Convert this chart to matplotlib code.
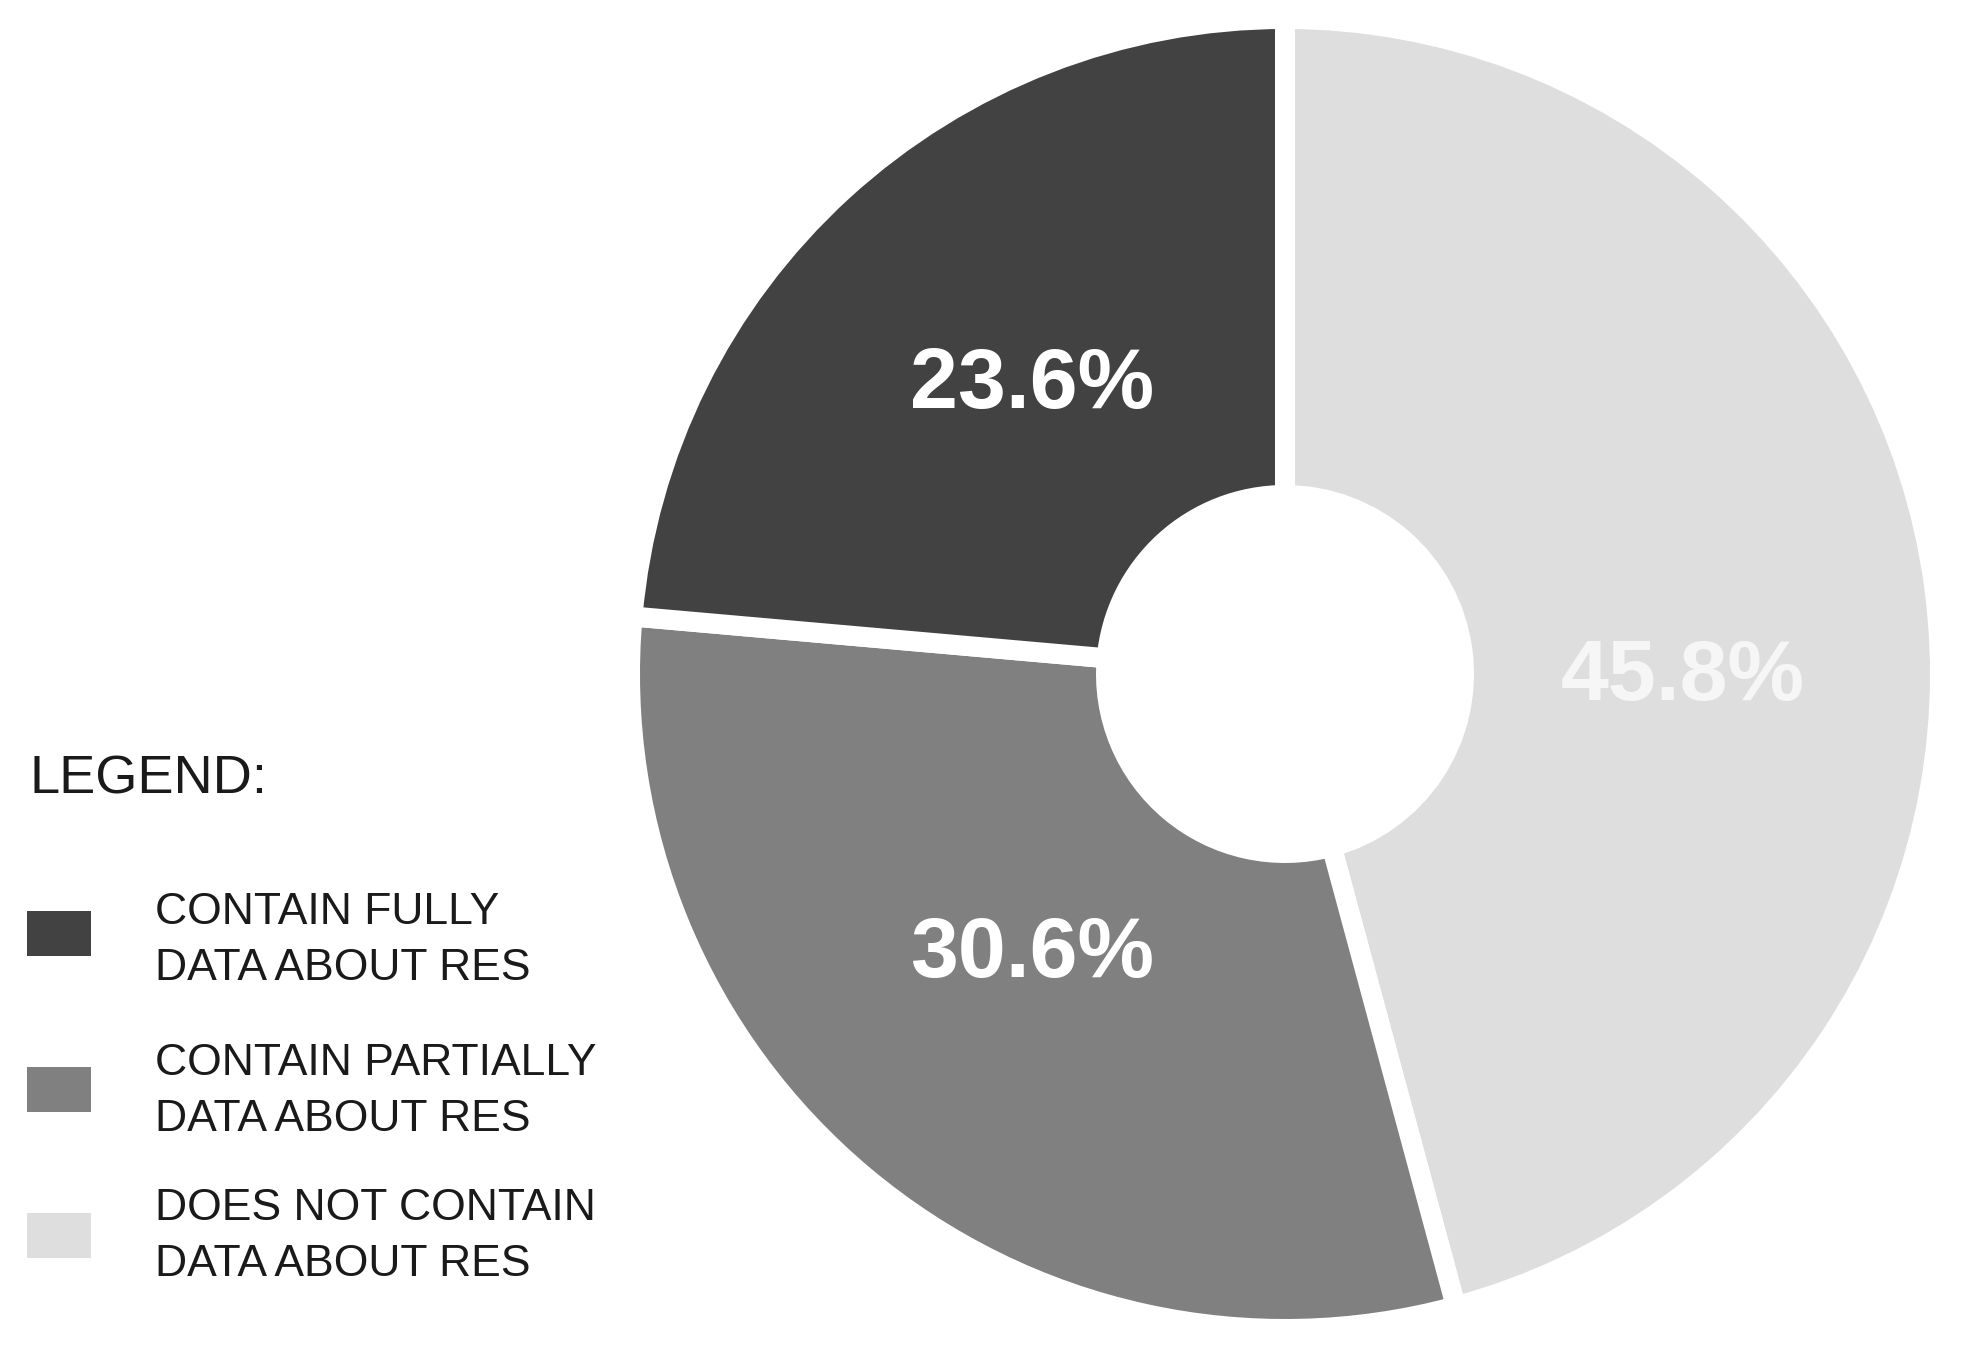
import matplotlib
matplotlib.use("Agg")
import matplotlib.pyplot as plt
from matplotlib.patches import Rectangle

plt.rcParams['font.family'] = ['Liberation Sans', 'DejaVu Sans']

categories = ["DOES NOT CONTAIN\nDATA ABOUT RES",
              "CONTAIN PARTIALLY\nDATA ABOUT RES",
              "CONTAIN FULLY\nDATA ABOUT RES"]
values = [45.8, 30.6, 23.6]
colors = ["#dedede", "#808080", "#424242"]
pct_labels = ["45.8%", "30.6%", "23.6%"]
pct_colors = ["#f6f6f6", "white", "white"]

W, H = 1987, 1356
DPI = 100
fig = plt.figure(figsize=(W / DPI, H / DPI), dpi=DPI)

# donut axes: center (1285, 674) px, half-size 660 px
cx, cy, half = 1285, 674, 660
ax = fig.add_axes([(cx - half) / W, (H - cy - half) / H, 2 * half / W, 2 * half / H])

gap_px = 20
lw_pt = gap_px * 72 / DPI
r_out = (645 + gap_px / 2) / half
r_in = (189 - gap_px / 2) / half
wedges, _ = ax.pie(values, colors=colors, startangle=90, counterclock=False,
                   radius=r_out,
                   wedgeprops=dict(width=r_out - r_in, edgecolor='white', linewidth=lw_pt))
ax.set_xlim(-1, 1)
ax.set_ylim(-1, 1)
ax.set_aspect('equal')
ax.axis('off')

# percentage labels (center x, baseline y in px)
label_pos = [(1683, 700), (1032, 977), (1032, 408)]
for (px, py), t, c in zip(label_pos, pct_labels, pct_colors):
    fig.text(px / W, 1 - py / H, t, ha='center', va='baseline', fontsize=62,
             fontweight='bold', color=c)

# Legend
fig.text(29 / W, 1 - 793 / H, "LEGEND:", ha='left', va='baseline', fontsize=39, color='#1a1a1a')
box_tops = [911, 1067, 1213]
line1_base = [924, 1075, 1220]
legend_order = [2, 1, 0]
for top, base, idx in zip(box_tops, line1_base, legend_order):
    fig.patches.append(Rectangle((27 / W, 1 - (top + 45) / H), 64 / W, 45 / H,
                                 transform=fig.transFigure, facecolor=colors[idx],
                                 edgecolor='none'))
    for k, line in enumerate(categories[idx].split("\n")):
        fig.text(155 / W, 1 - (base + 56 * k) / H, line, ha='left', va='baseline',
                 fontsize=32, color='#1a1a1a')

fig.savefig("out.png", dpi=DPI, facecolor='white')
